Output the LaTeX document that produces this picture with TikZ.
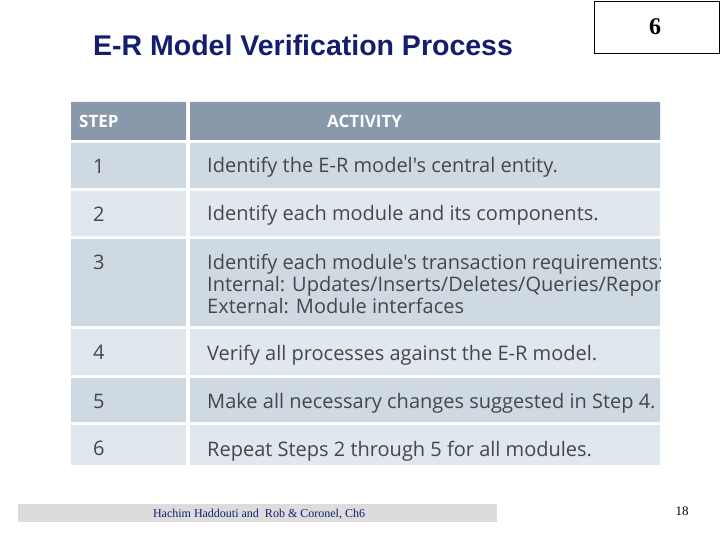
\documentclass[tikz,border=0pt]{standalone}
\usepackage{fontspec}
\setmainfont{Liberation Serif}
\newfontfamily\arialf{Liberation Sans}
\newfontfamily\bodyf{Open Sans}
\definecolor{hdr}{RGB}{138,152,172}
\definecolor{rowa}{RGB}{206,217,226}
\definecolor{rowb}{RGB}{224,231,237}
\definecolor{txt}{RGB}{70,70,75}
\definecolor{ttl}{RGB}{20,30,110}
\definecolor{foot}{RGB}{220,220,220}
\tikzset{x=1pt,y=-1pt,
 stepnum/.style={anchor=west,font=\bodyf\fontsize{20}{22}\selectfont,text=txt},
 act/.style={anchor=base west,align=left,font=\bodyf\fontsize{20}{22}\selectfont,text=txt},
 hd/.style={anchor=west,font=\bodyf\bfseries\fontsize{17}{20}\selectfont,text=white}}
\begin{document}
\begin{tikzpicture}
\useasboundingbox (0,0) rectangle (720,540);
\node[anchor=base west,inner sep=0pt,font=\arialf\bfseries\fontsize{28.5}{32}\selectfont,text=ttl] (title) at (93,56) {E-R Model Verification Process};
\draw[thick] (594,1) rectangle (719,53);
\node[font=\bfseries\fontsize{24}{28}\selectfont] (six) at (655,27) {6};
\begin{scope}
\clip (71,100) rectangle (660,467);
\fill[hdr] (71,102) rectangle (186,140) (190,102) rectangle (660,140);
\node[hd,inner sep=0pt] (h1) at (79,121) {STEP};
\node[hd,inner sep=0pt] (h2) at (327,121) {ACTIVITY};
\foreach \a/\b/\c/\n [count=\i] in {143/188/rowa/1,191/236/rowb/2,239/326/rowa/3,329/375/rowb/4,378/422/rowa/5,425/465/rowb/6}{
  \fill[\c] (71,\a) rectangle (186,\b) (190,\a) rectangle (660,\b);
  \node[stepnum,inner sep=0pt] (s\i) at (93,\a+23) {\n};
}
\node[act,inner sep=0pt] (a1) at (207,173) {Identify the E-R model's central entity.};
\node[act,inner sep=0pt] (a2) at (207,221) {Identify each module and its components.};
\node[act,inner sep=0pt] (a3) at (207,313) {Identify each module's transaction requirements:\\Internal: Updates/Inserts/Deletes/Queries/Reports\\External: Module interfaces};
\node[act,inner sep=0pt] (a4) at (207,360) {Verify all processes against the E-R model.};
\node[act,inner sep=0pt] (a5) at (207,408) {Make all necessary changes suggested in Step 4.};
\node[act,inner sep=0pt] (a6) at (207,456) {Repeat Steps 2 through 5 for all modules.};
\end{scope}
\fill[foot] (18,504) rectangle (497,522);
\node[font=\fontsize{12}{14}\selectfont,text=ttl] (ft) at (259,514) {Hachim Haddouti and\ \ Rob \& Coronel, Ch6};
\node[font=\fontsize{13}{15}\selectfont] (pg) at (682,511) {18};
\end{tikzpicture}
\end{document}
